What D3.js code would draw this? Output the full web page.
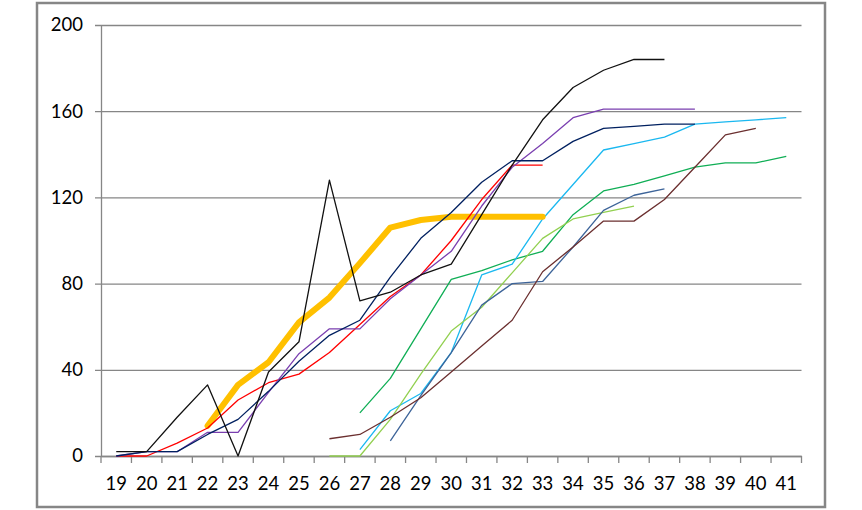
<!DOCTYPE html>
<html>
<head>
<meta charset="utf-8">
<script src="https://cdn.jsdelivr.net/npm/d3@7"></script>
<style>
  html, body { margin: 0; padding: 0; background: #ffffff; }
  svg { display: block; }
</style>
</head>
<body>
<svg id="chart" width="862" height="510"></svg>
<script>
// ---- data ----
const categories = [19,20,21,22,23,24,25,26,27,28,29,30,31,32,33,34,35,36,37,38,39,40,41];
const yTicks = [0, 40, 80, 120, 160, 200];

// each series: first category + values from there on
const seriesBlackStart = 19;
const seriesBlack = [2,2,18,33,0,39,53,128,72,76,84,89,112,135,156,171,179,184,184];
const seriesRedStart = 19;
const seriesRed = [0,0,6,13,26,34,38,48,61,74,84,100,119,135,135];
const seriesPurpleStart = 19;
const seriesPurple = [0,2,2,11,11,29.5,47.5,59,59,73,84,95,116,134,145,157,161,161,161,161];
const seriesNavyStart = 19;
const seriesNavy = [0,2,2,10,17,30,44,56,63,83,101,113,127,137,137,146,152,153,154,154];
const seriesGoldStart = 22;
const seriesGold = [14,33,43.5,62,73.5,89.5,106,109.5,111,111,111,111];
const seriesGreenStart = 27;
const seriesGreen = [20,36,59,82,86,91,95,112,123,126,130,134,136,136,139];
const seriesLightBlueStart = 27;
const seriesLightBlue = [3,21,29,48,84,89,110,126,142,145,148,154,155,156,157];
const seriesLightGreenStart = 26;
const seriesLightGreen = [0,0,17,38,58,69,85,101,110,113,116];
const seriesSteelStart = 28;
const seriesSteel = [7,28,48,70,80,81,97,114,121,124];
const seriesBrownStart = 26;
const seriesBrown = [8,10,18,27,39,51,63,85.5,97,109,109,119,134,149,152];

const series = [
  {start: seriesGreenStart, values: seriesGreen, color: "#0fae55", width: 1.3},
  {start: seriesLightBlueStart, values: seriesLightBlue, color: "#1ab8f0", width: 1.3},
  {start: seriesLightGreenStart, values: seriesLightGreen, color: "#92d050", width: 1.3},
  {start: seriesSteelStart, values: seriesSteel, color: "#3d6499", width: 1.3},
  {start: seriesBrownStart, values: seriesBrown, color: "#6b2f2f", width: 1.3},
  {start: seriesGoldStart, values: seriesGold, color: "#ffc000", width: 6},
  {start: seriesRedStart, values: seriesRed, color: "#ff0000", width: 1.3},
  {start: seriesPurpleStart, values: seriesPurple, color: "#7a3fb0", width: 1.3},
  {start: seriesNavyStart, values: seriesNavy, color: "#002060", width: 1.3},
  {start: seriesBlackStart, values: seriesBlack, color: "#111111", width: 1.3}
];

// ---- layout ----
const svg = d3.select("#chart");
const plotLeft = 101, plotRight = 801.5, plotTop = 25, plotBottom = 456;
const gray = "#868686";

const x = d3.scaleBand().domain(categories).range([plotLeft, plotRight]).padding(0);
const y = d3.scaleLinear().domain([0, 200]).range([plotBottom, plotTop]);

// outer border
svg.append("rect")
  .attr("x", 37).attr("y", 3).attr("width", 788).attr("height", 504)
  .attr("fill", "none").attr("stroke", gray).attr("stroke-width", 2.5);

// gridlines + y axis
const yAxis = d3.axisLeft(y).tickValues(yTicks).tickSize(-(plotRight - plotLeft)).tickPadding(12).tickSizeOuter(0);
const gy = svg.append("g").attr("transform", `translate(${plotLeft},0)`).call(yAxis);
gy.select(".domain").attr("stroke", gray).attr("stroke-width", 1.3);
gy.selectAll(".tick line").attr("stroke", gray).attr("stroke-width", 1.3).attr("x1", -6);
gy.selectAll(".tick text")
  .attr("x", -18)
  .attr("font-family", "Lato, 'Liberation Sans', sans-serif")
  .attr("font-size", 18.5).attr("fill", "#000");

// x axis: labels at band centres, ticks at band boundaries
const xAxis = d3.axisBottom(x).tickSize(0).tickPadding(21).tickSizeOuter(0);
const gx = svg.append("g").attr("transform", `translate(0,${plotBottom})`).call(xAxis);
gx.select(".domain").attr("stroke", gray).attr("stroke-width", 1.3);
gx.selectAll(".tick text")
  .attr("font-family", "Lato, 'Liberation Sans', sans-serif")
  .attr("font-size", 18.5).attr("fill", "#000");
const boundaries = categories.map(c => x(c)).concat([x(categories[categories.length - 1]) + x.bandwidth()]);
gx.selectAll("line.bt").data(boundaries).enter().append("line")
  .attr("class", "bt")
  .attr("x1", d => d).attr("x2", d => d)
  .attr("y1", 0).attr("y2", 7)
  .attr("stroke", gray).attr("stroke-width", 1.3);

// lines
const line = d3.line()
  .x(d => x(d.c) + x.bandwidth() / 2)
  .y(d => y(d.v));

svg.append("g").selectAll("path").data(series).enter().append("path")
  .attr("d", s => line(s.values.map((v, i) => ({c: s.start + i, v}))))
  .attr("fill", "none")
  .attr("stroke", s => s.color)
  .attr("stroke-width", s => s.width)
  .attr("stroke-linejoin", "round")
  .attr("stroke-linecap", s => s.width > 3 ? "round" : "butt");
</script>
</body>
</html>
